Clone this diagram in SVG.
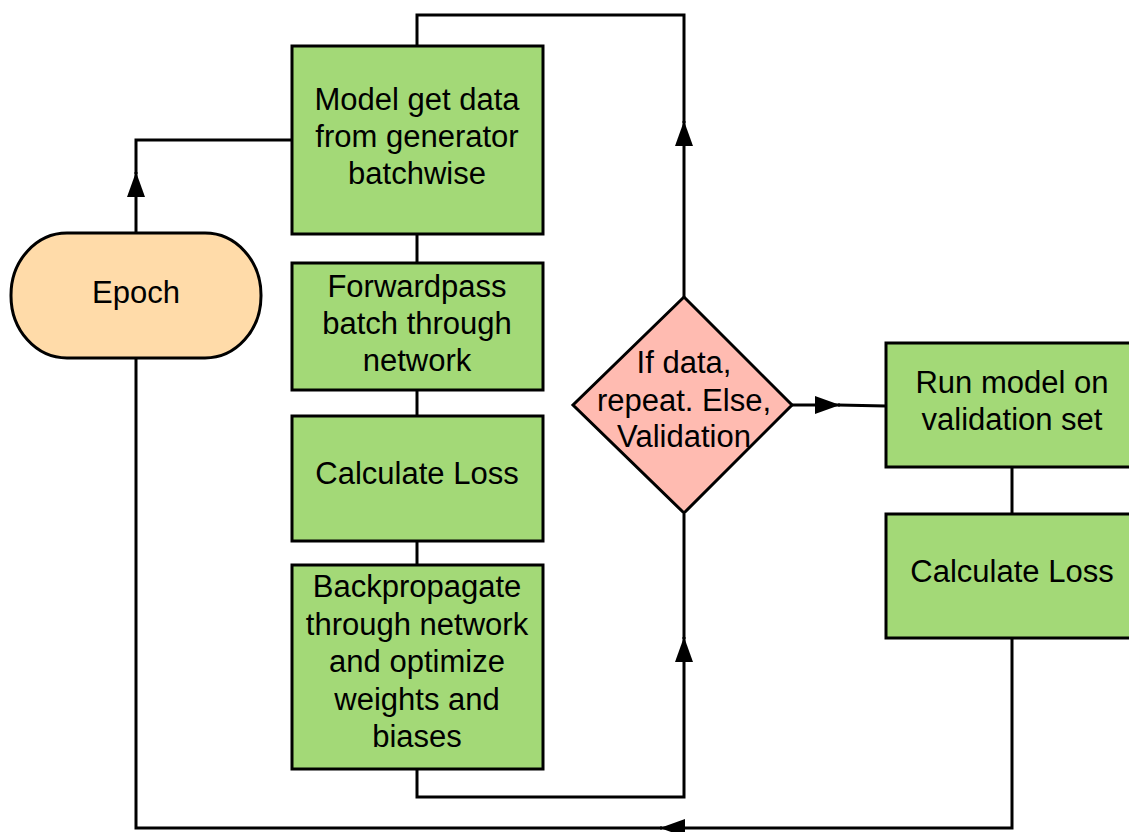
<svg xmlns="http://www.w3.org/2000/svg" width="1129" height="832" viewBox="0 0 1129 832">
<style>
.box{fill:#A3D977;stroke:#000;stroke-width:3}
.term{fill:#FFDBA9;stroke:#000;stroke-width:3}
.dec{fill:#FFBBB1;stroke:#000;stroke-width:3}
.ln{fill:none;stroke:#000;stroke-width:3}
text{font-family:"Liberation Sans",Arial,sans-serif;font-size:31px;fill:#000;text-anchor:middle}
</style>
<defs>
<marker id="ah" viewBox="0 0 25 18" refX="25" refY="9" markerWidth="25" markerHeight="18" markerUnits="userSpaceOnUse" orient="auto">
<path d="M0,0 L25,9 L0,18 z" fill="#000"/>
</marker>
</defs>
<rect width="1129" height="832" fill="#fff"/>
<g id="connectors">
<path class="ln" d="M136,233 V172" marker-end="url(#ah)"/>
<path class="ln" d="M136,174 V140 H292"/>
<path class="ln" d="M684,297 V121" marker-end="url(#ah)"/>
<path class="ln" d="M684,123 V15 H417 V46"/>
<path class="ln" d="M417,769 V797 H684 V637" marker-end="url(#ah)"/>
<path class="ln" d="M684,639 V514"/>
<path class="ln" d="M792,405 H840" marker-end="url(#ah)"/>
<path class="ln" d="M838,405 L886,406"/>
<path class="ln" d="M1012,638 V828 H660" marker-end="url(#ah)"/>
<path class="ln" d="M662,828 H136 V358"/>
<path class="ln" d="M417,234 V263"/>
<path class="ln" d="M417,390 V416"/>
<path class="ln" d="M417,541 V565"/>
<path class="ln" d="M1012,467 V514"/>
</g>
<g id="epoch">
<rect class="term" x="11" y="233" width="250" height="125" rx="56" ry="62"/>
<text x="136" y="303">Epoch</text>
</g>
<g id="getdata">
<rect class="box" x="292" y="46" width="251" height="188"/>
<text x="417" y="110">Model get data</text>
<text x="417" y="147">from generator</text>
<text x="417" y="184">batchwise</text>
</g>
<g id="forward">
<rect class="box" x="292" y="263" width="251" height="127"/>
<text x="417" y="297">Forwardpass</text>
<text x="417" y="334">batch through</text>
<text x="417" y="371">network</text>
</g>
<g id="loss1">
<rect class="box" x="292" y="416" width="251" height="125"/>
<text x="417" y="484">Calculate Loss</text>
</g>
<g id="backprop">
<rect class="box" x="292" y="565" width="251" height="204"/>
<text x="417" y="597">Backpropagate</text>
<text x="417" y="635">through network</text>
<text x="417" y="672">and optimize</text>
<text x="417" y="710">weights and</text>
<text x="417" y="747">biases</text>
</g>
<g id="decision">
<polygon class="dec" points="684,297 792,405 684,513 573,405"/>
<text x="684" y="373">If data,</text>
<text x="684" y="411">repeat. Else,</text>
<text x="684" y="447">Validation</text>
</g>
<g id="validation">
<rect class="box" x="886" y="343" width="252" height="124"/>
<text x="1012" y="393">Run model on</text>
<text x="1012" y="430">validation set</text>
</g>
<g id="loss2">
<rect class="box" x="886" y="514" width="252" height="124"/>
<text x="1012" y="582">Calculate Loss</text>
</g>
</svg>
